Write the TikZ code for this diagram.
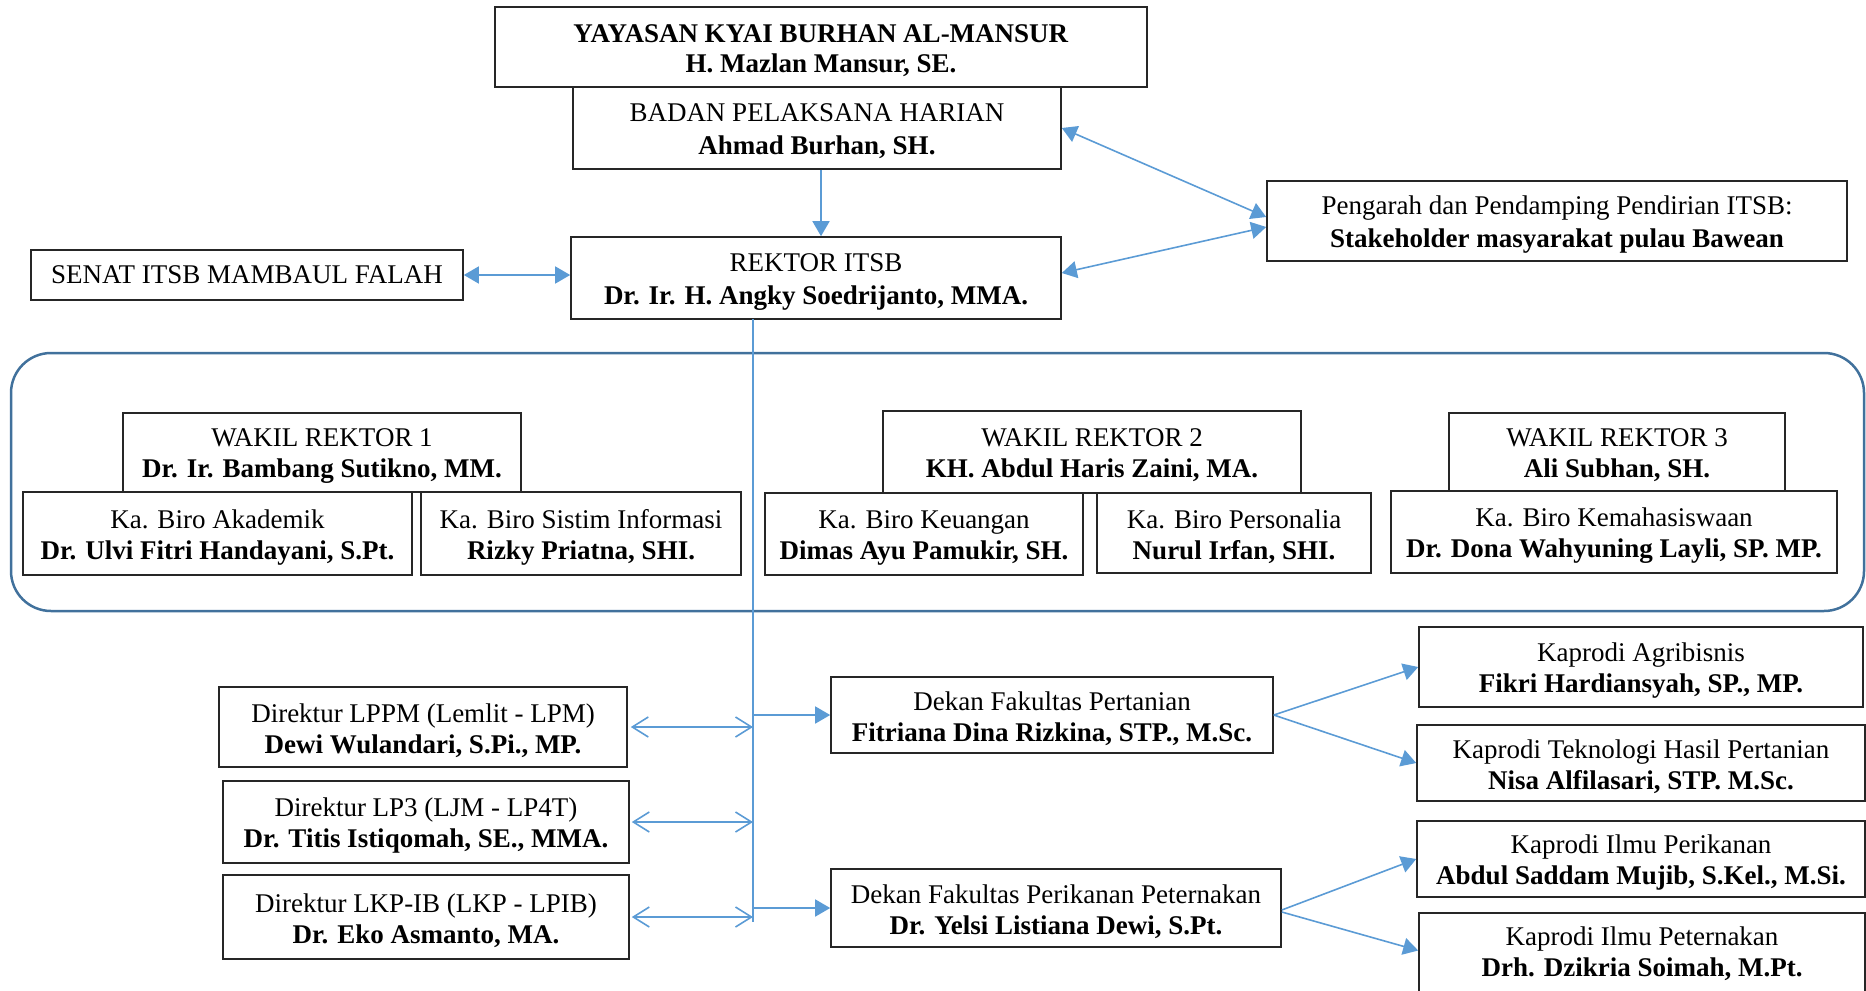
\documentclass[tikz,border=0pt]{standalone}
\usepackage{fontspec}
\setmainfont{Liberation Serif}
\usetikzlibrary{arrows.meta,calc,fit}
\definecolor{arrowblue}{HTML}{5B9BD5}
\definecolor{frameblue}{HTML}{41719C}
\begin{document}
\begin{tikzpicture}[x=0.5pt,y=-0.5pt,
  box/.style={draw=black!85, line width=0.8pt, inner sep=0pt},
  txt/.style={inner sep=0pt, align=center, yshift=-1.8pt,
    font=\fontsize{13.5}{15.5}\selectfont},
  conn/.style={draw=arrowblue, line width=0.8pt},
  fillarr/.style={conn, -{Triangle[length=7.5pt,width=8.5pt]}},
  dblarr/.style={conn, {Triangle[length=7.5pt,width=8.5pt]}-{Triangle[length=7.5pt,width=8.5pt]}},
  barbarr/.style={conn, {Straight Barb[length=8pt,width=10pt]}-{Straight Barb[length=8pt,width=10pt]}},
  frame/.style={draw=frameblue, line width=1.25pt, rounded corners=20pt}]
\useasboundingbox (0,0) rectangle (1866,990);
\clip (0,0) rectangle (1866,990);

% frame around wakil rektor group
\draw[frame] (11,353) rectangle (1864,611);

% top
\node[box, fit={(495,7)(1147,87)}] (yay) {};
\node[txt] (yay-t) at (yay) {\textbf{YAYASAN KYAI BURHAN AL-MANSUR}\\[-0.5pt]\textbf{H. Mazlan Mansur, SE.}};
\node[box, fit={(573,87)(1061,169)}] (badan) {};
\node[txt] (badan-t) at (badan) {BADAN PELAKSANA HARIAN\\[1pt]\textbf{Ahmad Burhan, SH.}};
\node[box, fit={(571,237)(1061,319)}] (rektor) {};
\node[txt] (rektor-t) at (rektor) {REKTOR ITSB\\[1pt]\textbf{Dr. Ir. H. Angky Soedrijanto, MMA.}};
\node[box, fit={(31,250)(463,300)}] (senat) {};
\node[txt, yshift=1.8pt] (senat-t) at (senat) {SENAT ITSB MAMBAUL FALAH};
\node[box, fit={(1267,181)(1847,261)}] (peng) {};
\node[txt] (peng-t) at (peng) {Pengarah dan Pendamping Pendirian ITSB:\\[1pt]\textbf{Stakeholder masyarakat pulau Bawean}};

% wakil rektor group
\node[box, fit={(123,413)(521,492)}] (wr1) {};
\node[txt] (wr1-t) at (wr1) {WAKIL REKTOR 1\\\textbf{Dr. Ir. Bambang Sutikno, MM.}};
\node[box, fit={(23,492)(412,575)}] (akad) {};
\node[txt] (akad-t) at (akad) {Ka. Biro Akademik\\\textbf{Dr. Ulvi Fitri Handayani, S.Pt.}};
\node[box, fit={(421,492)(741,575)}] (sisinf) {};
\node[txt] (sisinf-t) at (sisinf) {Ka. Biro Sistim Informasi\\\textbf{Rizky Priatna, SHI.}};
\node[box, fit={(883,411)(1301,493)}] (wr2) {};
\node[txt] (wr2-t) at (wr2) {WAKIL REKTOR 2\\\textbf{KH. Abdul Haris Zaini, MA.}};
\node[box, fit={(765,493)(1083,575)}] (keu) {};
\node[txt] (keu-t) at (keu) {Ka. Biro Keuangan\\\textbf{Dimas Ayu Pamukir, SH.}};
\node[box, fit={(1097,493)(1371,573)}] (pers) {};
\node[txt] (pers-t) at (pers) {Ka. Biro Personalia\\\textbf{Nurul Irfan, SHI.}};
\node[box, fit={(1449,413)(1785,491)}] (wr3) {};
\node[txt] (wr3-t) at (wr3) {WAKIL REKTOR 3\\\textbf{Ali Subhan, SH.}};
\node[box, fit={(1391,491)(1837,573)}] (kema) {};
\node[txt] (kema-t) at (kema) {Ka. Biro Kemahasiswaan\\\textbf{Dr. Dona Wahyuning Layli, SP. MP.}};

% lower part
\node[box, fit={(219,687)(627,767)}] (lppm) {};
\node[txt] (lppm-t) at (lppm) {Direktur LPPM (Lemlit - LPM)\\\textbf{Dewi Wulandari, S.Pi., MP.}};
\node[box, fit={(223,781)(629,863)}] (lp3) {};
\node[txt] (lp3-t) at (lp3) {Direktur LP3 (LJM - LP4T)\\\textbf{Dr. Titis Istiqomah, SE., MMA.}};
\node[box, fit={(223,875)(629,959)}] (lkp) {};
\node[txt] (lkp-t) at (lkp) {Direktur LKP-IB (LKP - LPIB)\\\textbf{Dr. Eko Asmanto, MA.}};
\node[box, fit={(831,677)(1273,753)}] (dekP) {};
\node[txt] (dekP-t) at (dekP) {Dekan Fakultas Pertanian\\\textbf{Fitriana Dina Rizkina, STP., M.Sc.}};
\node[box, fit={(831,869)(1281,947)}] (dekI) {};
\node[txt] (dekI-t) at (dekI) {Dekan Fakultas Perikanan Peternakan\\\textbf{Dr. Yelsi Listiana Dewi, S.Pt.}};
\node[box, fit={(1419,627)(1863,707)}] (agri) {};
\node[txt] (agri-t) at (agri) {Kaprodi Agribisnis\\\textbf{Fikri Hardiansyah, SP., MP.}};
\node[box, fit={(1417,725)(1865,801)}] (tekno) {};
\node[txt] (tekno-t) at (tekno) {Kaprodi Teknologi Hasil Pertanian\\\textbf{Nisa Alfilasari, STP. M.Sc.}};
\node[box, fit={(1417,821)(1865,897)}] (perik) {};
\node[txt] (perik-t) at (perik) {Kaprodi Ilmu Perikanan\\\textbf{Abdul Saddam Mujib, S.Kel., M.Si.}};
\node[box, fit={(1419,913)(1865,992)}] (peter) {};
\node[txt] (peter-t) at ($(peter.north)+(0,38)$) {Kaprodi Ilmu Peternakan\\\textbf{Drh. Dzikria Soimah, M.Pt.}};

% connectors
\coordinate (bdS) at ($(badan.south)+(4,0)$);
\draw[fillarr] (bdS) -- (bdS |- rektor.north);
\draw[dblarr] (senat.east) -- (senat.east -| rektor.west);
\draw[dblarr] (badan.east) -- ($(peng.west)+(0,-4)$);
\draw[dblarr] ($(rektor.east)+(0,-5)$) -- ($(peng.west)+(0,6)$);

\coordinate (spT) at (753,319);
\coordinate (spB) at (753,922);
\draw[conn] (spT) -- (spB);

\draw[barbarr, shorten <=1.5pt] (lppm.east) -- (lppm.east -| spB);
\draw[barbarr, shorten <=1pt] (lp3.east) -- (lp3.east -| spB);
\draw[barbarr, shorten <=1pt] (lkp.east) -- (lkp.east -| spB);

\draw[fillarr] (dekP.west -| spB) -- (dekP.west);
\draw[fillarr] (dekI.west -| spB) -- (dekI.west);

\draw[fillarr] (dekP.east) -- (agri.west);
\draw[fillarr] (dekP.east) -- (tekno.west);
\draw[fillarr] ($(dekI.east)+(0,2)$) -- (perik.west);
\draw[fillarr] ($(dekI.east)+(0,4)$) -- ($(peter.west)+(0,-2)$);
\end{tikzpicture}
\end{document}
